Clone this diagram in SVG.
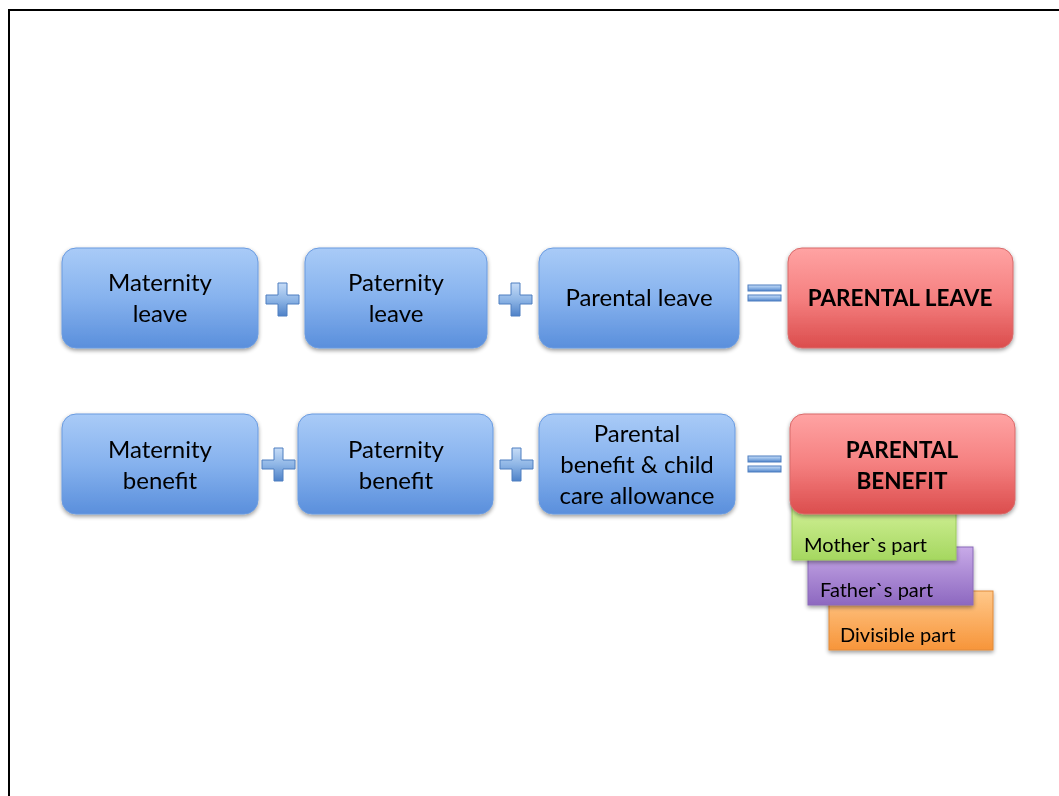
<svg xmlns="http://www.w3.org/2000/svg" width="1059" height="796" viewBox="0 0 1059 796">
<defs>
<linearGradient id="gBlue" x1="0" y1="0" x2="0" y2="1">
<stop offset="0" stop-color="#a9cbf7"/><stop offset="0.5" stop-color="#86b2ee"/><stop offset="1" stop-color="#5a8fdc"/>
</linearGradient>
<linearGradient id="gRed" x1="0" y1="0" x2="0" y2="1">
<stop offset="0" stop-color="#ffa3a3"/><stop offset="0.5" stop-color="#f58080"/><stop offset="1" stop-color="#db4d4d"/>
</linearGradient>
<linearGradient id="gGreen" x1="0" y1="0" x2="0" y2="1">
<stop offset="0" stop-color="#d6f39c"/><stop offset="1" stop-color="#a5d760"/>
</linearGradient>
<linearGradient id="gPurple" x1="0" y1="0" x2="0" y2="1">
<stop offset="0" stop-color="#c8aae8"/><stop offset="1" stop-color="#8d68c0"/>
</linearGradient>
<linearGradient id="gOrange" x1="0" y1="0" x2="0" y2="1">
<stop offset="0" stop-color="#ffc88a"/><stop offset="1" stop-color="#f7953a"/>
</linearGradient>
<linearGradient id="gOp" x1="0" y1="0" x2="0" y2="1">
<stop offset="0" stop-color="#c6dcf7"/><stop offset="0.5" stop-color="#8fb6e6"/><stop offset="1" stop-color="#4f82c8"/>
</linearGradient>
<filter id="sh" x="-10%" y="-10%" width="120%" height="130%">
<feGaussianBlur in="SourceAlpha" stdDeviation="2"/>
<feOffset dx="0" dy="2" result="b"/>
<feComponentTransfer><feFuncA type="linear" slope="0.4"/></feComponentTransfer>
<feMerge><feMergeNode/><feMergeNode in="SourceGraphic"/></feMerge>
</filter>
<g id="plus"><path d="M12 0 h9 v12 h12 v9 h-12 v12 h-9 v-12 h-12 v-9 h12 z" fill="url(#gOp)" stroke="#4f7fc0" stroke-width="1"/></g>
<g id="eq"><rect x="0" y="0" width="33" height="6" fill="url(#gOp)" stroke="#4f7fc0" stroke-width="1"/><rect x="0" y="10" width="33" height="6" fill="url(#gOp)" stroke="#4f7fc0" stroke-width="1"/></g>
</defs>
<style>
.blue{fill:url(#gBlue);stroke:#6a9be0;stroke-width:1}
.red{fill:url(#gRed);stroke:#d86a6a;stroke-width:1}
.t{font-family:Lato,"Open Sans","Liberation Sans",sans-serif;font-size:24px;fill:#000;text-anchor:middle}
.tb{font-weight:bold;font-size:22.5px}
.s{font-family:Lato,"Open Sans","Liberation Sans",sans-serif;font-size:20px;fill:#000}
</style>
<rect width="1059" height="796" fill="#fff"/>
<path d="M9 796 V10 H1059" fill="none" stroke="#000" stroke-width="2"/>

<g id="sub-divisible" filter="url(#sh)"><rect x="829" y="591" width="164" height="59" fill="url(#gOrange)" stroke="#e08a3a" stroke-width="1"/><text class="s" x="840" y="642">Divisible part</text></g>
<g id="sub-father" filter="url(#sh)"><rect x="808" y="547" width="165" height="58" fill="url(#gPurple)" stroke="#8a6ab8" stroke-width="1"/><text class="s" x="820" y="597">Father`s part</text></g>
<g id="sub-mother" filter="url(#sh)"><rect x="792" y="500" width="164" height="60" fill="url(#gGreen)" stroke="#9ccc5a" stroke-width="1"/><text class="s" x="804" y="552">Mother`s part</text></g>

<g id="maternity-leave" filter="url(#sh)"><rect class="blue" x="62" y="248" width="196" height="100" rx="14"/><text class="t" x="160" y="291">Maternity</text><text class="t" x="160" y="322">leave</text></g>
<g id="paternity-leave" filter="url(#sh)"><rect class="blue" x="305" y="248" width="182" height="100" rx="14"/><text class="t" x="396" y="291">Paternity</text><text class="t" x="396" y="322">leave</text></g>
<g id="parental-leave" filter="url(#sh)"><rect class="blue" x="539" y="248" width="200" height="100" rx="14"/><text class="t" x="639" y="306">Parental leave</text></g>
<g id="parental-leave-total" filter="url(#sh)"><rect class="red" x="788" y="248" width="225" height="100" rx="14"/><text class="t tb" x="900" y="306">PARENTAL LEAVE</text></g>

<g id="maternity-benefit" filter="url(#sh)"><rect class="blue" x="62" y="414" width="196" height="100" rx="14"/><text class="t" x="160" y="458">Maternity</text><text class="t" x="160" y="489">benefit</text></g>
<g id="paternity-benefit" filter="url(#sh)"><rect class="blue" x="298" y="414" width="195" height="100" rx="14"/><text class="t" x="396" y="458">Paternity</text><text class="t" x="396" y="489">benefit</text></g>
<g id="parental-benefit" filter="url(#sh)"><rect class="blue" x="539" y="414" width="196" height="100" rx="14"/><text class="t" x="637" y="442">Parental</text><text class="t" x="637" y="473">benefit &amp; child</text><text class="t" x="637" y="504">care allowance</text></g>
<g id="parental-benefit-total" filter="url(#sh)"><rect class="red" x="790" y="414" width="225" height="100" rx="14"/><text class="t tb" x="902" y="458">PARENTAL</text><text class="t tb" x="902" y="489">BENEFIT</text></g>

<g id="connectors">
<use href="#plus" x="266" y="283"/>
<use href="#plus" x="499" y="283"/>
<use href="#eq" x="748" y="285"/>
<use href="#plus" x="262" y="448"/>
<use href="#plus" x="500" y="448"/>
<use href="#eq" x="748" y="456"/>
</g>
</svg>
